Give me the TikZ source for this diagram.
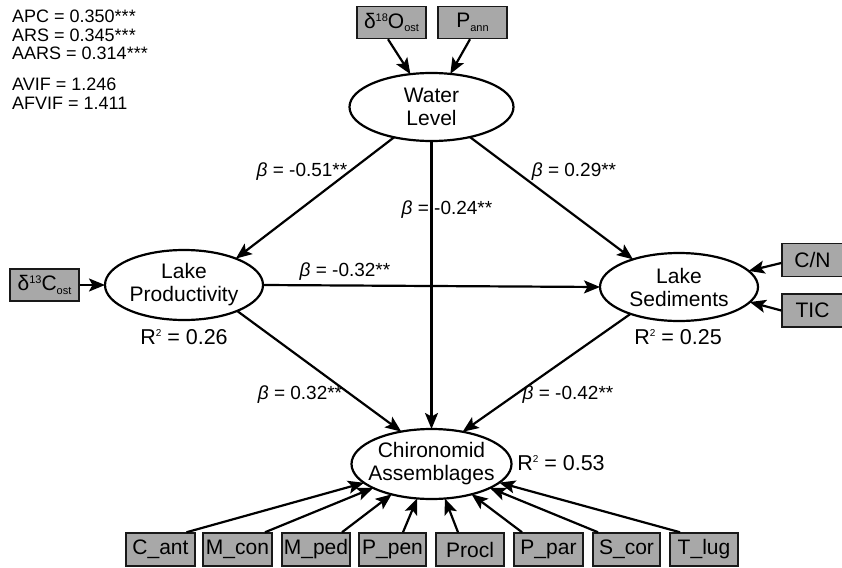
\documentclass[tikz,border=0pt]{standalone}
\usepackage{fontspec}
\setmainfont{Liberation Sans}
\usetikzlibrary{arrows.meta,shapes.geometric}
\definecolor{boxgray}{RGB}{168,168,168}
\newcommand\hisup[1]{\raisebox{7pt}{\fontsize{11}{11}\selectfont #1}}
\newcommand\losub[1]{\raisebox{-3.5pt}{\fontsize{11}{11}\selectfont #1}}
\newcommand\rsq{R\raisebox{7.5pt}{\fontsize{10}{10}\selectfont 2}}
\begin{document}
\begin{tikzpicture}[x=1pt,y=-1pt,
  ell/.style={ellipse,draw,line width=2.2pt,inner sep=0pt,outer sep=0pt},
  etext/.style={align=center,font=\fontsize{21}{23}\selectfont,inner sep=0pt},
  obs/.style={rectangle,draw=black!90,fill=boxgray,line width=1.5pt,inner sep=0pt,minimum height=32pt,font=\fontsize{21}{21}\selectfont},
  arr/.style={line width=2.2pt,-{Stealth[length=16pt,width=13pt,inset=3.5pt]}},
  blab/.style={font=\fontsize{19}{20}\selectfont,inner sep=0pt},
  rlab/.style={font=\fontsize{21.5}{22}\selectfont,inner sep=0pt},
  stat/.style={font=\fontsize{18}{18.5}\selectfont,align=left,inner sep=0pt,anchor=north west}]
\useasboundingbox (0,0) rectangle (842,567);

% statistics
\node[stat] (s1) at (12,10) {APC = 0.350***\\ARS = 0.345***\\AARS = 0.314***};
\node[stat] (s2) at (12,78) {AVIF = 1.246\\AFVIF = 1.411};

% latent variables
\node[ell,minimum width=164pt,minimum height=68pt] (wl) at (431.5,107) {};
\node[etext] (wlt) at (431.5,107) {Water\\Level};
\node[ell,minimum width=158pt,minimum height=70pt] (lp) at (184,285) {};
\node[etext] (lpt) at (184,285) {Lake\\Productivity};
\node[ell,minimum width=158pt,minimum height=68pt] (ls) at (679,287) {};
\node[etext] (lst) at (679,287) {Lake\\Sediments};
\node[ell,minimum width=160pt,minimum height=70pt] (ch) at (431.5,464) {};
\node[etext] (cht) at (431.5,464) {Chironomid\\Assemblages};

% observed variables
\node[obs,minimum width=69pt] (d18o) at (391.5,22.5) {δ\hisup{18}O\losub{ost}};
\node[obs,minimum width=69pt] (pann) at (472.5,22.5) {P\losub{ann}};
\node[obs,minimum width=69pt] (d13c) at (44.5,285) {δ\hisup{13}C\losub{ost}};
\node[obs,minimum width=61pt,minimum height=33pt] (cn) at (812.5,260) {C/N};
\node[obs,minimum width=61pt,minimum height=33pt] (tic) at (812.5,310.5) {TIC};

\node[obs,minimum width=69pt,minimum height=33pt] (cant) at (160.5,549.5) {C\_ant};
\node[obs,minimum width=69pt,minimum height=33pt] (mcon) at (237.5,549.5) {M\_con};
\node[obs,minimum width=68pt,minimum height=33pt] (mped) at (316,549.5) {M\_ped};
\node[obs,minimum width=67pt,minimum height=33pt] (ppen) at (392.5,549.5) {P\_pen};
\node[obs,minimum width=68pt,minimum height=33pt] (procl) at (470,549.5) {Procl};
\node[obs,minimum width=69pt,minimum height=33pt] (ppar) at (548.5,549.5) {P\_par};
\node[obs,minimum width=67pt,minimum height=33pt] (scor) at (626.5,549.5) {S\_cor};
\node[obs,minimum width=68pt,minimum height=33pt] (tlug) at (704,549.5) {T\_lug};

% structural paths
\draw[arr] (wl.219) -- (lp.27);
\draw[arr] (wl.-38) -- (ls.149);
\draw[arr] (wl.south) -- (ch.north);
\draw[arr] (lp.east) -- (ls.west);
\draw[arr] (lp.-26) -- (ch.133);
\draw[arr] (ls.209) -- (ch.46);

% measurement paths
\draw[arr] ([xshift=-3.5pt]d18o.south) -- (wl);
\draw[arr] ([xshift=-2.5pt]pann.south) -- (wl);
\draw[arr] (d13c.east) -- (lp.west);
\draw[arr] ([yshift=-3pt]cn.west) -- (ls.13);
\draw[arr] (tic.west) -- (ls.-12);

\draw[arr] ([xshift=26pt]cant.north) -- (ch);
\draw[arr] ([xshift=27.5pt]mcon.north) -- (ch);
\draw[arr] ([xshift=26pt]mped.north) -- (ch);
\draw[arr] ([xshift=10.5pt]ppen.north) -- (ch);
\draw[arr] ([xshift=-12pt]procl.north) -- (ch);
\draw[arr] ([xshift=-26.5pt]ppar.north) -- (ch);
\draw[arr] ([xshift=-28.5pt]scor.north) -- (ch);
\draw[arr] ([xshift=-24pt]tlug.north) -- (ch);

% path coefficients
\node[blab] (b1) at (302,172) {\textit{β} = -0.51**};
\node[blab] (b2) at (447,210) {\textit{β} = -0.24**};
\node[blab] (b3) at (574,172) {\textit{β} = 0.29**};
\node[blab] (b4) at (345,272) {\textit{β} = -0.32**};
\node[blab] (b5) at (300,395) {\textit{β} = 0.32**};
\node[blab] (b6) at (568,395) {\textit{β} = -0.42**};

% explained variance
\node[rlab] (r1) at (184,337) {\rsq{} = 0.26};
\node[rlab] (r2) at (678,337) {\rsq{} = 0.25};
\node[rlab] (r3) at (561,463) {\rsq{} = 0.53};
\end{tikzpicture}
\end{document}
